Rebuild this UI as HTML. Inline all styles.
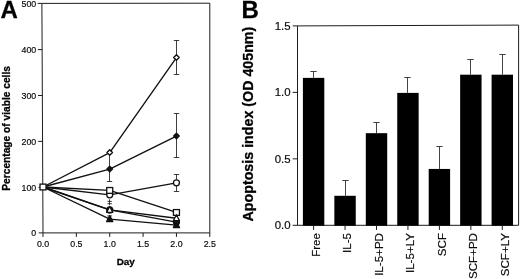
<!DOCTYPE html>
<html><head><meta charset="utf-8"><title>Figure</title>
<style>
html,body{margin:0;padding:0;background:#fff;}
body{width:520px;height:279px;overflow:hidden;}
svg{display:block;will-change:transform;}
text{font-family:"Liberation Sans",sans-serif;fill:#0a0a0a;stroke:#0a0a0a;stroke-width:0.18px;}
.ta{font-size:8.8px;}
.tbk{font-size:11.6px;}
.tb{font-weight:bold;fill:#000;stroke:#000;stroke-width:0.28px;}
.big{font-size:24px;}
</style></head>
<body>
<svg width="520" height="279" viewBox="0 0 520 279">
<rect width="520" height="279" fill="#fff"/>
<line x1="41.90" y1="3.40" x2="209.80" y2="3.20" stroke="#1c1c1c" stroke-width="1.0" />
<line x1="41.90" y1="3.40" x2="43.00" y2="232.90" stroke="#1c1c1c" stroke-width="1.0" />
<line x1="209.80" y1="3.20" x2="209.80" y2="232.90" stroke="#1c1c1c" stroke-width="1.0" />
<line x1="43.00" y1="232.90" x2="209.80" y2="232.90" stroke="#1c1c1c" stroke-width="1.0" />
<line x1="38.70" y1="232.90" x2="43.00" y2="232.90" stroke="#1c1c1c" stroke-width="1.0" />
<text x="36.2" y="236.20" text-anchor="end" class="ta">0</text>
<line x1="38.48" y1="187.30" x2="42.78" y2="187.30" stroke="#1c1c1c" stroke-width="1.0" />
<text x="36.2" y="190.60" text-anchor="end" class="ta">100</text>
<line x1="38.26" y1="141.40" x2="42.56" y2="141.40" stroke="#1c1c1c" stroke-width="1.0" />
<text x="36.2" y="144.70" text-anchor="end" class="ta">200</text>
<line x1="38.04" y1="95.50" x2="42.34" y2="95.50" stroke="#1c1c1c" stroke-width="1.0" />
<text x="36.2" y="98.80" text-anchor="end" class="ta">300</text>
<line x1="37.82" y1="49.60" x2="42.12" y2="49.60" stroke="#1c1c1c" stroke-width="1.0" />
<text x="36.2" y="52.90" text-anchor="end" class="ta">400</text>
<line x1="37.60" y1="3.40" x2="41.90" y2="3.40" stroke="#1c1c1c" stroke-width="1.0" />
<text x="36.2" y="6.70" text-anchor="end" class="ta">500</text>
<line x1="43.00" y1="232.90" x2="43.00" y2="236.90" stroke="#1c1c1c" stroke-width="1.0" />
<text x="43.00" y="246.6" text-anchor="middle" class="ta">0.0</text>
<line x1="76.36" y1="232.90" x2="76.36" y2="236.90" stroke="#1c1c1c" stroke-width="1.0" />
<text x="76.36" y="246.6" text-anchor="middle" class="ta">0.5</text>
<line x1="109.72" y1="232.90" x2="109.72" y2="236.90" stroke="#1c1c1c" stroke-width="1.0" />
<text x="109.72" y="246.6" text-anchor="middle" class="ta">1.0</text>
<line x1="143.08" y1="232.90" x2="143.08" y2="236.90" stroke="#1c1c1c" stroke-width="1.0" />
<text x="143.08" y="246.6" text-anchor="middle" class="ta">1.5</text>
<line x1="176.44" y1="232.90" x2="176.44" y2="236.90" stroke="#1c1c1c" stroke-width="1.0" />
<text x="176.44" y="246.6" text-anchor="middle" class="ta">2.0</text>
<line x1="209.80" y1="232.90" x2="209.80" y2="236.90" stroke="#1c1c1c" stroke-width="1.0" />
<text x="209.80" y="246.6" text-anchor="middle" class="ta">2.5</text>
<text x="125.8" y="265.4" text-anchor="middle" class="tb" style="font-size:9.9px">Day</text>
<text transform="translate(9.8 128.4) rotate(-90)" text-anchor="middle" class="tb" style="font-size:10.2px">Percentage of viable cells</text>
<text x="0.4" y="17.8" class="tb big">A</text>
<polyline points="43.00,187.00 109.72,219.13 176.44,225.10" fill="none" stroke="#111" stroke-width="1.35" stroke-linejoin="round"/>
<polyline points="43.00,187.00 109.72,209.95 176.44,222.11" fill="none" stroke="#111" stroke-width="1.35" stroke-linejoin="round"/>
<polyline points="43.00,187.00 109.72,194.80 176.44,182.87" fill="none" stroke="#111" stroke-width="1.35" stroke-linejoin="round"/>
<polyline points="43.00,187.00 109.72,190.44 176.44,212.47" fill="none" stroke="#111" stroke-width="1.35" stroke-linejoin="round"/>
<polyline points="43.00,187.00 109.72,209.95 176.44,218.21" fill="none" stroke="#111" stroke-width="1.35" stroke-linejoin="round"/>
<polyline points="43.00,187.00 109.72,169.10 176.44,136.05" fill="none" stroke="#111" stroke-width="1.35" stroke-linejoin="round"/>
<polyline points="43.00,187.00 109.72,152.58 176.44,57.56" fill="none" stroke="#111" stroke-width="1.35" stroke-linejoin="round"/>
<line x1="176.50" y1="40.50" x2="176.50" y2="74.50" stroke="#1c1c1c" stroke-width="0.85" />
<line x1="173.80" y1="40.50" x2="179.20" y2="40.50" stroke="#1c1c1c" stroke-width="0.85" />
<line x1="173.80" y1="74.50" x2="179.20" y2="74.50" stroke="#1c1c1c" stroke-width="0.85" />
<line x1="176.50" y1="113.50" x2="176.50" y2="157.50" stroke="#1c1c1c" stroke-width="0.85" />
<line x1="173.80" y1="113.50" x2="179.20" y2="113.50" stroke="#1c1c1c" stroke-width="0.85" />
<line x1="173.80" y1="157.50" x2="179.20" y2="157.50" stroke="#1c1c1c" stroke-width="0.85" />
<line x1="176.50" y1="174.50" x2="176.50" y2="191.50" stroke="#1c1c1c" stroke-width="0.85" />
<line x1="173.80" y1="174.50" x2="179.20" y2="174.50" stroke="#1c1c1c" stroke-width="0.85" />
<line x1="173.80" y1="191.50" x2="179.20" y2="191.50" stroke="#1c1c1c" stroke-width="0.85" />
<line x1="109.50" y1="152.58" x2="109.50" y2="181.50" stroke="#1c1c1c" stroke-width="0.85" />
<line x1="106.80" y1="181.50" x2="112.20" y2="181.50" stroke="#1c1c1c" stroke-width="0.85" />
<line x1="109.50" y1="199.30" x2="109.50" y2="205.00" stroke="#1c1c1c" stroke-width="0.85" />
<line x1="107.52" y1="201.40" x2="111.92" y2="201.40" stroke="#1c1c1c" stroke-width="0.85" />
<line x1="107.52" y1="203.70" x2="111.92" y2="203.70" stroke="#1c1c1c" stroke-width="0.85" />
<line x1="107.32" y1="215.90" x2="112.12" y2="215.90" stroke="#1c1c1c" stroke-width="0.85" />
<polygon points="109.72,215.63 112.82,221.63 106.62,221.63" fill="#111" stroke="#111" stroke-width="1.3" stroke-linejoin="round"/>
<polygon points="176.44,221.60 179.54,227.60 173.34,227.60" fill="#111" stroke="#111" stroke-width="1.3" stroke-linejoin="round"/>
<circle cx="109.72" cy="209.95" r="3.0" fill="#111" stroke="#111" stroke-width="1.3"/>
<circle cx="176.44" cy="222.11" r="3.0" fill="#111" stroke="#111" stroke-width="1.3"/>
<circle cx="109.72" cy="194.80" r="3.0" fill="#fff" stroke="#111" stroke-width="1.3"/>
<circle cx="176.44" cy="182.87" r="3.0" fill="#fff" stroke="#111" stroke-width="1.3"/>
<rect x="106.72" y="187.54" width="6.0" height="5.8" fill="#fff" stroke="#111" stroke-width="1.3"/>
<rect x="173.44" y="209.57" width="6.0" height="5.8" fill="#fff" stroke="#111" stroke-width="1.3"/>
<circle cx="109.72" cy="210.25" r="2.7" fill="#111" stroke="#111" stroke-width="1"/>
<polygon points="109.72,206.45 112.82,212.45 106.62,212.45" fill="#fff" stroke="#111" stroke-width="1.3" stroke-linejoin="round"/>
<polygon points="176.44,214.71 179.54,220.71 173.34,220.71" fill="#fff" stroke="#111" stroke-width="1.3" stroke-linejoin="round"/>
<polygon points="109.72,166.35 112.47,169.10 109.72,171.85 106.97,169.10" fill="#111" stroke="#111" stroke-width="1.45" stroke-linejoin="round"/>
<polygon points="176.44,133.30 179.19,136.05 176.44,138.80 173.69,136.05" fill="#111" stroke="#111" stroke-width="1.45" stroke-linejoin="round"/>
<polygon points="109.72,149.83 112.47,152.58 109.72,155.33 106.97,152.58" fill="#fff" stroke="#111" stroke-width="1.45" stroke-linejoin="round"/>
<polygon points="176.44,54.81 179.19,57.56 176.44,60.31 173.69,57.56" fill="#fff" stroke="#111" stroke-width="1.45" stroke-linejoin="round"/>
<rect x="40.00" y="184.10" width="6.0" height="5.8" fill="#fff" stroke="#111" stroke-width="1.3"/>
<line x1="297.50" y1="25.90" x2="518.60" y2="25.10" stroke="#1c1c1c" stroke-width="1.0" />
<line x1="297.50" y1="25.90" x2="297.50" y2="225.30" stroke="#1c1c1c" stroke-width="1.0" />
<line x1="518.60" y1="25.10" x2="518.60" y2="225.30" stroke="#1c1c1c" stroke-width="1.0" />
<line x1="297.50" y1="225.30" x2="518.60" y2="225.30" stroke="#1c1c1c" stroke-width="1.0" />
<line x1="292.70" y1="225.30" x2="297.50" y2="225.30" stroke="#1c1c1c" stroke-width="1.0" />
<text x="290.5" y="229.40" text-anchor="end" class="tbk" style="font-size:11.4px">0.0</text>
<line x1="292.70" y1="158.83" x2="297.50" y2="158.83" stroke="#1c1c1c" stroke-width="1.0" />
<text x="290.5" y="162.93" text-anchor="end" class="tbk" style="font-size:11.4px">0.5</text>
<line x1="292.70" y1="92.37" x2="297.50" y2="92.37" stroke="#1c1c1c" stroke-width="1.0" />
<text x="290.5" y="96.47" text-anchor="end" class="tbk" style="font-size:11.4px">1.0</text>
<line x1="292.70" y1="25.90" x2="297.50" y2="25.90" stroke="#1c1c1c" stroke-width="1.0" />
<text x="290.5" y="30.00" text-anchor="end" class="tbk" style="font-size:11.4px">1.5</text>
<rect x="302.90" y="77.88" width="21.4" height="147.82" fill="#000"/>
<line x1="313.50" y1="71.50" x2="313.50" y2="77.88" stroke="#222" stroke-width="0.85" />
<line x1="310.30" y1="71.50" x2="316.70" y2="71.50" stroke="#222" stroke-width="0.85" />
<line x1="313.60" y1="225.30" x2="313.60" y2="229.90" stroke="#1c1c1c" stroke-width="1.0" />
<text transform="translate(319.80 233.0) rotate(-90)" text-anchor="end" class="tbk">Free</text>
<rect x="334.35" y="195.79" width="21.4" height="29.91" fill="#000"/>
<line x1="345.50" y1="180.50" x2="345.50" y2="195.79" stroke="#222" stroke-width="0.85" />
<line x1="342.30" y1="180.50" x2="348.70" y2="180.50" stroke="#222" stroke-width="0.85" />
<line x1="345.05" y1="225.30" x2="345.05" y2="229.90" stroke="#1c1c1c" stroke-width="1.0" />
<text transform="translate(351.25 233.0) rotate(-90)" text-anchor="end" class="tbk">IL-5</text>
<rect x="365.80" y="133.18" width="21.4" height="92.52" fill="#000"/>
<line x1="376.50" y1="122.50" x2="376.50" y2="133.18" stroke="#222" stroke-width="0.85" />
<line x1="373.30" y1="122.50" x2="379.70" y2="122.50" stroke="#222" stroke-width="0.85" />
<line x1="376.50" y1="225.30" x2="376.50" y2="229.90" stroke="#1c1c1c" stroke-width="1.0" />
<text transform="translate(382.70 233.0) rotate(-90)" text-anchor="end" class="tbk">IL-5+PD</text>
<rect x="397.25" y="92.90" width="21.4" height="132.80" fill="#000"/>
<line x1="407.50" y1="77.50" x2="407.50" y2="92.90" stroke="#222" stroke-width="0.85" />
<line x1="404.30" y1="77.50" x2="410.70" y2="77.50" stroke="#222" stroke-width="0.85" />
<line x1="407.95" y1="225.30" x2="407.95" y2="229.90" stroke="#1c1c1c" stroke-width="1.0" />
<text transform="translate(414.15 233.0) rotate(-90)" text-anchor="end" class="tbk">IL-5+LY</text>
<rect x="428.70" y="168.94" width="21.4" height="56.76" fill="#000"/>
<line x1="439.50" y1="146.50" x2="439.50" y2="168.94" stroke="#222" stroke-width="0.85" />
<line x1="436.30" y1="146.50" x2="442.70" y2="146.50" stroke="#222" stroke-width="0.85" />
<line x1="439.40" y1="225.30" x2="439.40" y2="229.90" stroke="#1c1c1c" stroke-width="1.0" />
<text transform="translate(445.60 233.0) rotate(-90)" text-anchor="end" class="tbk">SCF</text>
<rect x="460.15" y="74.69" width="21.4" height="151.01" fill="#000"/>
<line x1="470.50" y1="59.50" x2="470.50" y2="74.69" stroke="#222" stroke-width="0.85" />
<line x1="467.30" y1="59.50" x2="473.70" y2="59.50" stroke="#222" stroke-width="0.85" />
<line x1="470.85" y1="225.30" x2="470.85" y2="229.90" stroke="#1c1c1c" stroke-width="1.0" />
<text transform="translate(477.05 233.0) rotate(-90)" text-anchor="end" class="tbk">SCF+PD</text>
<rect x="491.60" y="74.69" width="21.4" height="151.01" fill="#000"/>
<line x1="502.50" y1="54.50" x2="502.50" y2="74.69" stroke="#222" stroke-width="0.85" />
<line x1="499.30" y1="54.50" x2="505.70" y2="54.50" stroke="#222" stroke-width="0.85" />
<line x1="502.30" y1="225.30" x2="502.30" y2="229.90" stroke="#1c1c1c" stroke-width="1.0" />
<text transform="translate(508.50 233.0) rotate(-90)" text-anchor="end" class="tbk">SCF+LY</text>
<text transform="translate(253.0 124.1) rotate(-90)" text-anchor="middle" class="tb" style="font-size:14.25px">Apoptosis index (OD 405nm)</text>
<text x="241.5" y="18.1" class="tb big">B</text>
</svg>
</body></html>
